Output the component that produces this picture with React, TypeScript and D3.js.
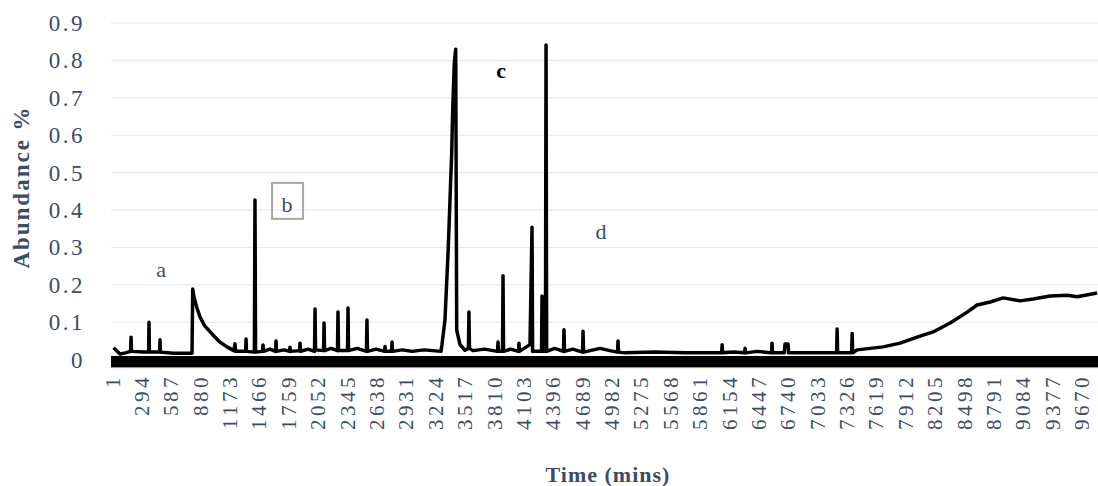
import React from 'react';
import * as d3 from 'd3';

// retention time (mins) and abundance
const times = [
  1, 65, 120, 170, 175, 180, 300, 350, 354, 358, 460, 464, 468, 600,
  783, 790, 800, 830, 863, 910, 992, 1060, 1132, 1200, 1212, 1218, 1318, 1322, 1326,
  1405, 1411, 1417, 1485, 1491, 1497, 1560, 1615, 1621, 1627, 1700, 1755, 1760, 1766,
  1855, 1860, 1866, 1940, 2005, 2010, 2015, 2095, 2100, 2105, 2170, 2234, 2239, 2244,
  2334, 2339, 2344, 2430, 2523, 2528, 2533, 2620, 2703, 2708, 2713, 2773, 2778, 2783,
  2880, 2977, 3100, 3266, 3276, 3306, 3339, 3356, 3373, 3383, 3399, 3413, 3423, 3456,
  3505, 3540, 3545, 3550, 3585, 3700, 3830, 3835, 3840, 3880, 3885, 3890, 3960, 4039,
  4044, 4049, 4154, 4174, 4180, 4269, 4274, 4279, 4308, 4314, 4320, 4400, 4488,
  4493, 4498, 4580, 4678, 4683, 4688, 4853, 4950, 5027, 5032, 5037, 5100, 5400, 5700,
  6065, 6070, 6075, 6180, 6294, 6299, 6304, 6420, 6563, 6568, 6573, 6690, 6698, 6728,
  6733, 6900, 7212, 7217, 7222, 7362, 7367, 7372, 7417, 7676, 7845, 8015, 8174, 8344,
  8514, 8613, 8743, 8873, 9043, 9172, 9342, 9512, 9611, 9810,
];
const abundance = [
  0.032, 0.015, 0.018, 0.022, 0.06, 0.022, 0.02, 0.02, 0.1, 0.02, 0.02, 0.053, 0.02, 0.017,
  0.017, 0.189, 0.17, 0.14, 0.114, 0.09, 0.066, 0.047, 0.034, 0.024, 0.042, 0.022, 0.022, 0.055, 0.022,
  0.02, 0.427, 0.02, 0.022, 0.039, 0.022, 0.028, 0.022, 0.05, 0.022, 0.026, 0.022, 0.033, 0.022,
  0.024, 0.044, 0.022, 0.028, 0.022, 0.135, 0.026, 0.024, 0.098, 0.024, 0.03, 0.024, 0.127, 0.024,
  0.024, 0.138, 0.024, 0.03, 0.022, 0.106, 0.022, 0.028, 0.022, 0.035, 0.022, 0.022, 0.047, 0.022,
  0.026, 0.022, 0.026, 0.022, 0.04, 0.106, 0.3, 0.427, 0.552, 0.667, 0.793, 0.83, 0.079, 0.04,
  0.025, 0.03, 0.127, 0.03, 0.024, 0.028, 0.022, 0.047, 0.022, 0.022, 0.224, 0.022, 0.028, 0.022,
  0.044, 0.022, 0.04, 0.354, 0.022, 0.022, 0.17, 0.022, 0.022, 0.841, 0.022, 0.03, 0.022,
  0.08, 0.022, 0.028, 0.02, 0.076, 0.02, 0.03, 0.024, 0.02, 0.05, 0.02, 0.018, 0.02, 0.018,
  0.018, 0.04, 0.018, 0.02, 0.018, 0.03, 0.018, 0.022, 0.018, 0.044, 0.018, 0.018, 0.042, 0.042,
  0.018, 0.018, 0.018, 0.082, 0.018, 0.018, 0.07, 0.018, 0.026, 0.034, 0.044, 0.06, 0.074, 0.098,
  0.127, 0.146, 0.154, 0.165, 0.157, 0.162, 0.17, 0.172, 0.168, 0.178,
];

const xTickLabels = [
  1, 294, 587, 880, 1173, 1466, 1759, 2052, 2345, 2638, 2931, 3224, 3517, 3810,
  4103, 4396, 4689, 4982, 5275, 5568, 5861, 6154, 6447, 6740, 7033, 7326, 7619,
  7912, 8205, 8498, 8791, 9084, 9377, 9670,
];
const yTicks = [0, 0.1, 0.2, 0.3, 0.4, 0.5, 0.6, 0.7, 0.8, 0.9];

const peakLabels = ['a', 'b', 'c', 'd'];
const peakLabelTimes = [474, 1731, 3866, 4863];
const peakLabelValues = [0.221, 0.395, 0.753, 0.322];

export default function App() {
  const width = 1098;
  const height = 486;
  const left = 111;

  const x = d3.scaleLinear().domain([1, 9819]).range([113.6, 1098]);
  const y = d3.scaleLinear().domain([0, 0.9]).range([359.6, 23]);

  const pts = times.map((t, i) => [t, abundance[i]] as [number, number]);
  const line = d3.line<[number, number]>()
    .x(d => x(d[0]))
    .y(d => y(d[1]));

  const textCol = '#3d4b63';
  const font = '"Liberation Serif", "Times New Roman", serif';

  return (
    <svg width={width} height={height} style={{ position: 'absolute', left: 0, top: 0, background: '#fff' }}>
      {/* gridlines */}
      {yTicks.filter(v => v > 0).map(v => (
        <line key={v} x1={left} x2={width} y1={y(v)} y2={y(v)} stroke="#dbe5f4" strokeWidth={1} />
      ))}

      {/* y tick labels */}
      {yTicks.map(v => (
        <text key={v} x={85} y={y(v)} dy="0.35em" textAnchor="end" fontFamily={font}
          fontSize={23} letterSpacing={2.5} fill={textCol}>
          {v === 0 ? '0' : v.toFixed(1)}
        </text>
      ))}

      {/* chromatogram trace */}
      <path d={line(pts) || ''} fill="none" stroke="#000" strokeWidth={3.5} strokeLinejoin="round" />

      {/* thick baseline */}
      <line x1={left} x2={width} y1={y(0) + 2} y2={y(0) + 2} stroke="#000" strokeWidth={11} />
      <line x1={left} x2={width} y1={y(0) + 8} y2={y(0) + 8} stroke="#8c8c8c" strokeWidth={1} />

      {/* x tick labels */}
      {xTickLabels.map(t => (
        <text key={t} transform={`translate(${x(t) + 6},374) rotate(-90)`} textAnchor="end"
          fontFamily={font} fontSize={21} letterSpacing={3.5} fill={textCol}>
          {t}
        </text>
      ))}

      {/* peak annotations */}
      {peakLabels.map((s, i) => (
        <text key={s} x={x(peakLabelTimes[i])} y={y(peakLabelValues[i])} textAnchor="middle"
          fontFamily={font} fontSize={22} fontWeight={s === 'c' ? 'bold' : 'normal'}
          fill={s === 'c' ? '#000' : textCol}>
          {s}
        </text>
      ))}
      <rect x={x(peakLabelTimes[1]) - 15} y={y(peakLabelValues[1]) - 29} width={31} height={36}
        fill="none" stroke="#a6a6a6" strokeWidth={2} />

      {/* axis titles */}
      <text transform="translate(29,187) rotate(-90)" textAnchor="middle" fontFamily={font}
        fontSize={23} fontWeight="bold" letterSpacing={2} fill={textCol}>
        Abundance %
      </text>
      <text x={608} y={482} textAnchor="middle" fontFamily={font} fontSize={22}
        fontWeight="bold" letterSpacing={1} fill={textCol}>
        Time (mins)
      </text>
    </svg>
  );
}
